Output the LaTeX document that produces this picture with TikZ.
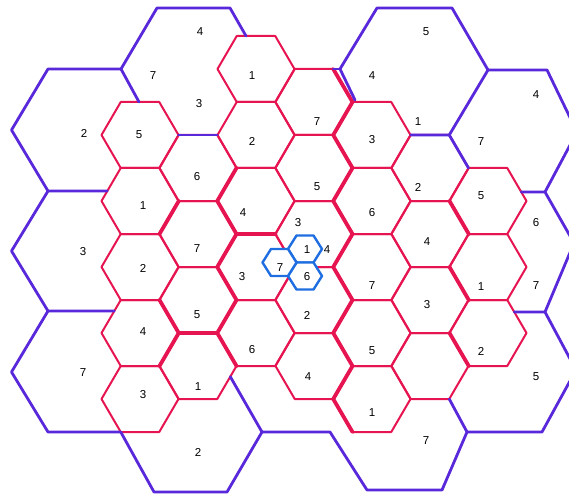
\documentclass[tikz,border=0pt]{standalone}
\usepackage{fontspec}
\setmainfont{Liberation Sans}
\usepackage{tikz}
\usetikzlibrary{calc}

\definecolor{cellred}{RGB}{230,20,80}
\definecolor{cellpurple}{RGB}{88,40,218}
\definecolor{cellblue}{RGB}{30,110,225}

\begin{document}
\begin{tikzpicture}[
  x=1pt, y=-1pt,
  redcell/.style={draw=cellred, line width=2pt, line join=round},
  clusteredge/.style={draw=cellred, line width=3.8pt, line join=round, line cap=round},
  bigcell/.style={draw=cellpurple, line width=2.8pt, line join=round, line cap=round},
  microcell/.style={draw=cellblue, fill=white, line width=2.4pt, line join=round},
  lbl/.style={font=\fontsize{11.5}{12}\selectfont, inner sep=0pt}
]
\useasboundingbox (0,0) rectangle (569,494);
\clip (0,0) rectangle (569,494);

% split cells: column k at x=140+58k, doubled row r at y=3+33r
\foreach \k/\r in {0/4,0/6,0/8,0/10,0/12, 1/5,1/7,1/9,1/11,
                   2/2,2/4,2/6,2/8,2/10, 3/3,3/5,3/7,3/9,3/11,
                   4/4,4/6,4/8,4/10,4/12, 5/5,5/7,5/9,5/11, 6/6,6/8,6/10}{
  \pgfmathsetmacro\cx{140+58*\k}
  \pgfmathsetmacro\cy{3+33*\r}
  \draw[redcell] (\cx-38.5,\cy) -- (\cx-19.25,\cy-33) -- (\cx+19.25,\cy-33)
    -- (\cx+38.5,\cy) -- (\cx+19.25,\cy+33) -- (\cx-19.25,\cy+33) -- cycle;
}

% heavy seams between columns
\draw[clusteredge] (333.25,69) -- (352.5,102) -- (333.25,135) -- (352.5,168)
  -- (333.25,201) -- (352.5,234) -- (333.25,267) -- (352.5,300) -- (333.25,333)
  -- (352.5,366) -- (333.25,399) -- (352.5,432);
\draw[clusteredge] (236.5,168) -- (217.25,201) -- (236.5,234) -- (217.25,267)
  -- (236.5,300) -- (217.25,333) -- (236.5,366);
\draw[clusteredge] (236.5,234) -- (275.5,234);
\draw[clusteredge] (159.5,300) -- (178.75,333) -- (217.25,333);
\draw[clusteredge] (178.75,333) -- (159.5,366);
\draw[clusteredge] (178.75,201) -- (159.5,234);
\draw[clusteredge] (449.5,201) -- (468.75,234);
\draw[clusteredge] (449.5,267) -- (468.75,300);
\draw[clusteredge] (449.5,333) -- (468.75,366);

% large cells, only the parts left outside the split cells
\draw[bigcell] (246,36) -- (230,8) -- (157,8) -- (121,69) -- (139,102);
\draw[bigcell] (178.5,135) -- (217.25,135);
\draw[bigcell] (121,69) -- (48,69) -- (11.5,130) -- (48,191) -- (107.3,191);
\draw[bigcell] (48,191) -- (11.5,251) -- (48,311) -- (114.3,311);
\draw[bigcell] (48,311) -- (11.5,372) -- (48,432) -- (120.75,432) -- (154,492)
  -- (227,492) -- (262,432) -- (230.3,376.7);
\draw[bigcell] (262,432) -- (330,432) -- (367,490) -- (442,490) -- (467,432)
  -- (449.25,399);
\draw[bigcell] (467,432) -- (542,432) -- (576,370) -- (545,312) -- (514.25,312);
\draw[bigcell] (545,312) -- (574,243) -- (545,192) -- (521.25,192);
\draw[bigcell] (545,192) -- (577,132) -- (547,70) -- (488,70);
\draw[bigcell] (355,100) -- (340,69) -- (377,8) -- (452,8) -- (488,70)
  -- (449.25,135) -- (410.75,135);
\draw[bigcell] (449.25,135) -- (468.5,168);
\draw[bigcell] (333.25,69) -- (340,69);

% micro cells
\foreach \bx/\by in {305/249, 305/276, 279.5/262.5}{
  \draw[microcell] (\bx-17,\by) -- (\bx-8.5,\by-13.5) -- (\bx+8.5,\by-13.5)
    -- (\bx+17,\by) -- (\bx+8.5,\by+13.5) -- (\bx-8.5,\by+13.5) -- cycle;
}

% channel set labels
\foreach \px/\py/\t [count=\i] in {
  200/32/4, 426/32/5, 153/76/7, 252/76/1, 372/76/4, 536/95/4,
  199/104/3, 317/122/7, 418/122/1, 84/133/2, 139/135/5, 252/141/2,
  372/140/3, 481/142/7, 197/177/6, 317/187/5, 418/187/2, 481/196/5,
  143/206/1, 243/213/4, 372/213/6, 298/223/3, 536/223/6, 427/242/4,
  83/252/3, 197/249/7, 307/250/1, 327/250/4, 280/268/7, 307/277/6,
  242/277/3, 143/268/2, 372/286/7, 481/287/1, 536/286/7, 427/305/3,
  197/315/5, 307/315/2, 143/332/4, 481/351/2, 252/350/6, 372/351/5,
  83/373/7, 308/377/4, 536/377/5, 198/387/1, 143/395/3, 372/413/1,
  426/441/7, 198/452/2}{
  \node[lbl] (d\i) at (\px,\py) {\t};
}
\end{tikzpicture}
\end{document}
